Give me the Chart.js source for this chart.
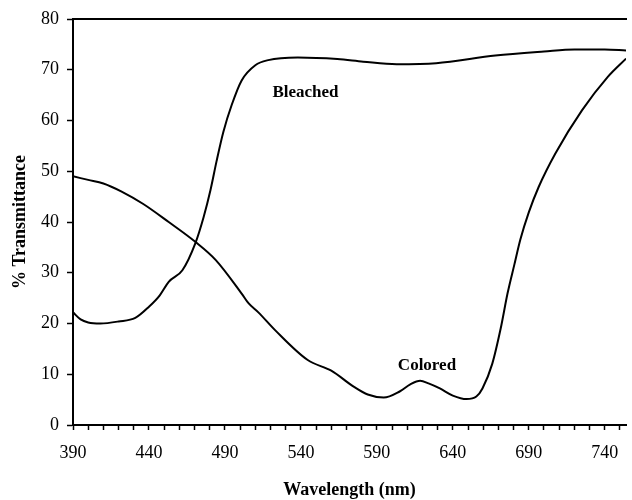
<!DOCTYPE html>
<html>
<head>
<meta charset="utf-8">
<script src="https://cdn.jsdelivr.net/npm/chart.js@4"></script>
<style>
    html, body { margin: 0; padding: 0; background: #fff; }
    #wrap { width: 632px; height: 500px; }
</style>
</head>
<body>
<div id="wrap"><canvas id="specChart" width="632" height="500"></canvas></div>
<script>
// --- Data ---
const bleachedNm = [390, 395, 400, 408, 420, 431, 440, 447, 453, 462, 470.5, 476, 480.5, 484.5, 489, 494.5, 501, 510, 518.5, 538, 564, 581, 603, 629, 668, 700, 720, 740, 754];
const bleachedT  = [22.2, 20.8, 20.2, 20.0, 20.4, 21.1, 23.3, 25.5, 28.2, 30.5, 35.8, 41.0, 46.3, 52.0, 57.8, 63.1, 67.9, 70.9, 71.9, 72.4, 72.1, 71.6, 71.1, 71.3, 72.8, 73.6, 74.0, 74.0, 73.8];

const coloredNm = [390, 400, 410, 422, 436, 453, 470.5, 484, 501, 505.5, 512, 523, 544.5, 560, 575, 584, 594.5, 605, 612, 618.5, 624, 631.5, 640, 649, 655.5, 659.5, 666, 671.5, 676, 680.5, 684.5, 690, 696.5, 707.5, 725, 742, 754];
const coloredT  = [49.0, 48.3, 47.6, 46.0, 43.6, 40.0, 36.1, 32.5, 25.9, 24.0, 22.2, 18.7, 12.8, 10.7, 7.5, 6.0, 5.4, 6.6, 8.0, 8.7, 8.2, 7.2, 5.8, 5.1, 5.6, 7.2, 12.1, 19.0, 25.9, 31.6, 36.6, 41.9, 46.9, 53.5, 62.0, 68.6, 72.2];

const xTickLabels = [390, 440, 490, 540, 590, 640, 690, 740];
const yTickLabels = [0, 10, 20, 30, 40, 50, 60, 70, 80];

const curveLabels = [
    { text: 'Bleached', x: 543, y: 65.4 },
    { text: 'Colored', x: 623, y: 11.8 }
];

const serif = '"Liberation Serif", "Times New Roman", serif';

function toPoints(xs, ys) {
    return xs.map((x, i) => ({ x: x, y: ys[i] }));
}

// draws the curve names at data coordinates
const curveLabelPlugin = {
    id: 'curveLabels',
    afterDatasetsDraw(chart) {
        const { ctx, scales } = chart;
        ctx.save();
        ctx.font = 'bold 17px ' + serif;
        ctx.fillStyle = '#000';
        ctx.textAlign = 'center';
        ctx.textBaseline = 'middle';
        curveLabels.forEach(l => {
            ctx.fillText(l.text, scales.x.getPixelForValue(l.x), scales.y.getPixelForValue(l.y));
        });
        ctx.restore();
    }
};

const ctx = document.getElementById('specChart').getContext('2d');

new Chart(ctx, {
    type: 'line',
    data: {
        datasets: [{
            label: 'Bleached',
            data: toPoints(bleachedNm, bleachedT),
            borderColor: '#000',
            borderWidth: 2,
            pointRadius: 0,
            cubicInterpolationMode: 'monotone',
            fill: false
        }, {
            label: 'Colored',
            data: toPoints(coloredNm, coloredT),
            borderColor: '#000',
            borderWidth: 2,
            pointRadius: 0,
            cubicInterpolationMode: 'monotone',
            fill: false
        }]
    },
    options: {
        responsive: false,
        animation: false,
        devicePixelRatio: 1,
        layout: { padding: 0 },
        plugins: {
            legend: { display: false },
            tooltip: { enabled: false }
        },
        scales: {
            x: {
                type: 'linear',
                position: 'bottom',
                min: 390,
                max: 754,
                afterBuildTicks: (scale) => {
                    const t = [];
                    for (let v = 390; v <= 750; v += 10) t.push({ value: v });
                    scale.ticks = t;
                },
                afterFit: (scale) => { scale.height = 75; },
                border: { display: true, color: '#000', width: 2 },
                grid: {
                    drawOnChartArea: false,
                    drawTicks: true,
                    tickLength: 5,
                    tickWidth: 1.5,
                    tickColor: '#000'
                },
                ticks: {
                    autoSkip: false,
                    maxRotation: 0,
                    padding: 12,
                    color: '#000',
                    font: { family: serif, size: 18 },
                    callback: (v) => xTickLabels.includes(v) ? String(v) : ''
                },
                title: {
                    display: true,
                    text: 'Wavelength (nm)',
                    color: '#000',
                    font: { family: serif, size: 18, weight: 'bold', lineHeight: 1 },
                    padding: { top: 0, bottom: 1 }
                }
            },
            xTop: {
                type: 'linear',
                position: 'top',
                min: 390,
                max: 754,
                afterFit: (scale) => { scale.height = 19; },
                border: { display: true, color: '#000', width: 2 },
                grid: { display: false },
                ticks: { display: false }
            },
            y: {
                min: 0,
                max: 80,
                afterBuildTicks: (scale) => {
                    scale.ticks = yTickLabels.map(v => ({ value: v }));
                },
                afterFit: (scale) => { scale.width = 73; },
                border: { display: true, color: '#000', width: 2 },
                grid: {
                    drawOnChartArea: false,
                    drawTicks: true,
                    tickLength: 6,
                    tickWidth: 1.5,
                    tickColor: '#000'
                },
                ticks: {
                    padding: 8,
                    color: '#000',
                    font: { family: serif, size: 18 }
                },
                title: {
                    display: true,
                    text: '% Transmittance',
                    color: '#000',
                    font: { family: serif, size: 18, weight: 'bold', lineHeight: 1 },
                    padding: { top: 11, bottom: 0 }
                }
            }
        }
    },
    plugins: [curveLabelPlugin]
});
</script>
</body>
</html>
